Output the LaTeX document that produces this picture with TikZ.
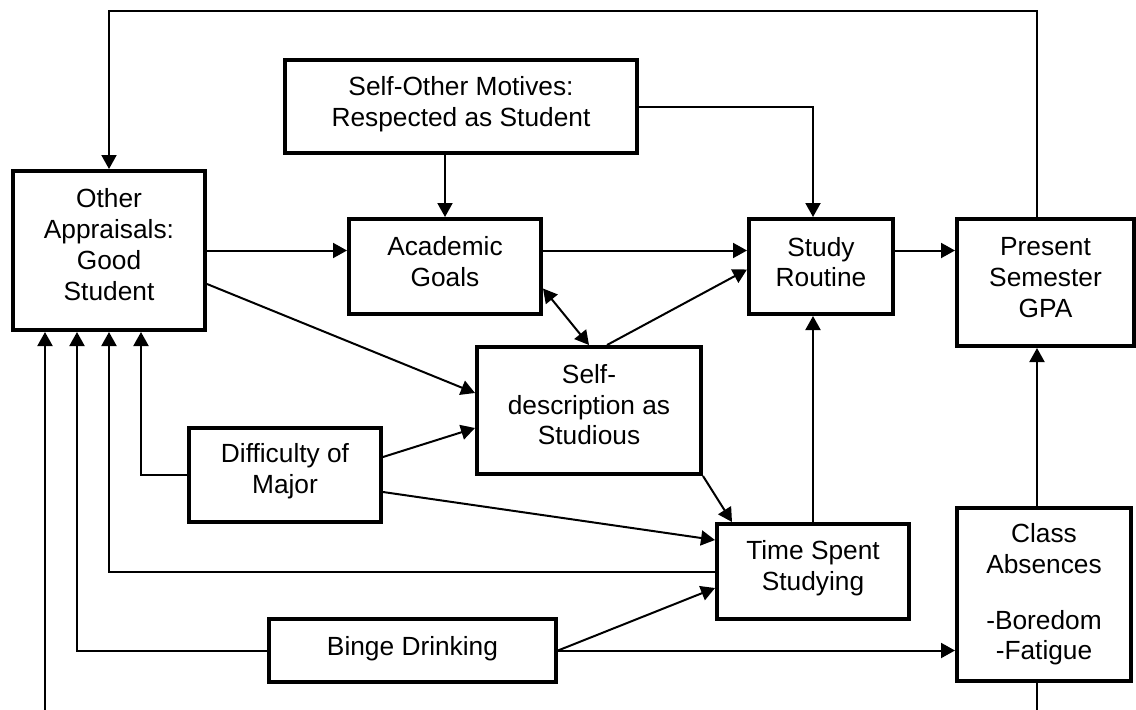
\documentclass[tikz,border=0pt]{standalone}
\usepackage{fontspec}
\setmainfont{Liberation Sans}
\usetikzlibrary{arrows.meta}

\begin{document}
\begin{tikzpicture}[x=1pt,y=1pt]
              \tikzstyle{every node}+=[inner sep=0pt, align=center, font=\fontsize{26.3}{30.7}\selectfont]
              \tikzstyle{box}=[draw, black, line width=4pt, rectangle]
              \tikzstyle{link}=[black, line width=2pt, -{Triangle[width=15pt,length=14pt]}]
              \tikzstyle{bilink}=[black, line width=2pt, {Triangle[width=15pt,length=14pt]}-{Triangle[width=15pt,length=14pt]}]
              \useasboundingbox (0,0) rectangle (1136,-710);
              \clip (0,0) rectangle (1136,-710);
              \node [box, minimum width=192pt, minimum height=159pt] (other) at (109,-250.5) {Other\\Appraisals:\\Good\\Student\\[-18.7pt]\mbox{}};
              \node [box, minimum width=352pt, minimum height=93pt] (sim) at (461,-106.5) {Self-Other Motives:\\Respected as Student\\[-20.2pt]\mbox{}};
              \node [box, minimum width=192pt, minimum height=95pt] (goals) at (445,-266.5) {Academic\\Goals\\[-20.7pt]\mbox{}};
              \node [box, minimum width=144pt, minimum height=95pt] (routine) at (821,-266.5) {Study\\Routine\\[-21.7pt]\mbox{}};
              \node [box, minimum width=177pt, minimum height=127pt] (gpa) at (1045.5,-282.5) {Present\\Semester\\GPA\\[-20.7pt]\mbox{}};
              \node [box, minimum width=224pt, minimum height=127pt] (desc) at (589,-410.5) {Self-\\description as\\Studious\\[-18.7pt]\mbox{}};
              \node [box, minimum width=192pt, minimum height=94pt] (diff) at (285,-475) {Difficulty of\\Major\\[-17.2pt]\mbox{}};
              \node [box, minimum width=192pt, minimum height=95pt] (time) at (813,-571.5) {Time Spent\\Studying\\[-19.2pt]\mbox{}};
              \node [box, minimum width=174pt, minimum height=173pt] (cls) at (1044,-594.5) {Class\\Absences\\[25pt]-Boredom\\-Fatigue};
              \node [box, minimum width=287pt, minimum height=63pt] (binge) at (412.5,-650.5) {Binge Drinking\\[-21.2pt]\mbox{}};
              \draw [link] ([xshift=-8.5pt]gpa.north) -- ++(0,206) -| (other.north);
              \draw [link] (sim.south -| goals.north) -- (goals.north);
              \draw [link] (sim.east) -| (routine.north -| time.north);
              \draw [link] (other.east) -- (other.east -| goals.west);
              \draw [link] (other.east -| goals.east) -- (other.east -| routine.west);
              \draw [link] (other.east -| routine.east) -- (other.east -| gpa.west);
              \draw [link] ([yshift=-33.5pt]other.east) -- ([yshift=17.5pt]desc.west);
              \draw [bilink] ([yshift=-22pt]goals.east) -- (desc.north);
              \draw [link] ([xshift=18pt]desc.north) -- ([yshift=-3pt]routine.west);
              \draw [link] (diff.west) -| ([xshift=32pt]other.south);
              \draw [link] ([yshift=18pt]diff.east) -- ([yshift=-17.5pt]desc.west);
              \draw [link] ([yshift=-17pt]diff.east) -- ([yshift=31.5pt]time.west);
              \draw [link] (desc.south east) -- ([xshift=-81pt]time.north);
              \draw [link] (time.north) -- (time.north |- routine.south);
              \draw [link] (time.west) -| (other.south);
              \draw [link] (binge.west) -| ([xshift=-32pt]other.south);
              \draw [link] (binge.east) -- ([yshift=-16.5pt]time.west);
              \draw [link] (binge.east) -- (binge.east -| cls.west);
              \draw [link] ([xshift=-7pt]cls.north) -- ([xshift=-7pt]cls.north |- gpa.south);
              \draw [link] ([xshift=-7pt]cls.south) -- ++(0,-60) -| ([xshift=-64pt]other.south);
            \end{tikzpicture}
\end{document}
